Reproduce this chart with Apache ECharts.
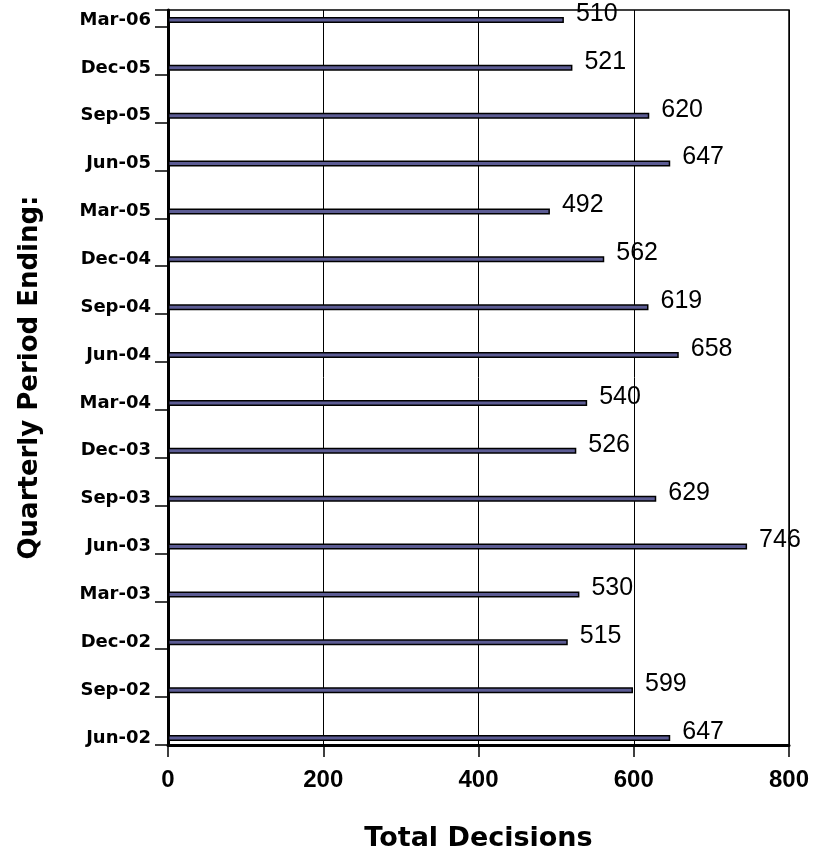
<!DOCTYPE html>
<html>
<head>
<meta charset="utf-8">
<script src="https://cdn.jsdelivr.net/npm/echarts@6/dist/echarts.min.js"></script>
<style>
html,body{margin:0;padding:0;background:#fff;}
#chart{width:814px;height:860px;}
</style>
</head>
<body>
<div id="chart"></div>
<script>
// Categories listed bottom to top
var categories = ['Jun-02','Sep-02','Dec-02','Mar-03','Jun-03','Sep-03','Dec-03','Mar-04','Jun-04','Sep-04','Dec-04','Mar-05','Jun-05','Sep-05','Dec-05','Mar-06'];
var totalDecisions = [647,599,515,530,746,629,526,540,658,619,562,492,647,620,521,510];
var xTicks = [0,200,400,600,800];

var chart = echarts.init(document.getElementById('chart'));
var font = 'Arial, "Liberation Sans", sans-serif';
var wide = '"DejaVu Sans", Arial, sans-serif';
chart.setOption({
  animation: false,
  backgroundColor: '#ffffff',
  grid: [
    {left: 168, right: 25, top: 10, bottom: 115, show: true, borderColor: '#000', borderWidth: 1.5, backgroundColor: 'transparent'},
    {left: 168, right: 25, top: 20, bottom: 122}
  ],
  xAxis: [
    {
      gridIndex: 0, type: 'value', min: xTicks[0], max: xTicks[xTicks.length-1], interval: 200,
      axisLine: {show: true, lineStyle: {color: '#000', width: 3}},
      axisTick: {show: true, length: 12, lineStyle: {color: '#000', width: 1.5}},
      axisLabel: {color: '#000', fontFamily: font, fontWeight: 'bold', fontSize: 24, margin: 23},
      splitLine: {show: true, lineStyle: {color: '#000', width: 1}},
      name: 'Total Decisions', nameLocation: 'middle', nameGap: 80,
      nameTextStyle: {color: '#000', fontFamily: wide, fontWeight: 'bold', fontSize: 27}
    },
    {
      gridIndex: 1, type: 'value', min: 0, max: 800, show: false,
      splitLine: {show: false}
    }
  ],
  yAxis: [
    {
      gridIndex: 0, type: 'value', min: 0, max: 15.35, interval: 1,
      axisLine: {show: true, lineStyle: {color: '#000', width: 3}},
      axisTick: {show: true, length: 13, lineStyle: {color: '#000', width: 1.5}},
      axisLabel: {show: false},
      splitLine: {show: false},
      name: 'Quarterly Period Ending:', nameLocation: 'middle', nameRotate: 90, nameGap: 125,
      nameTextStyle: {color: '#000', fontFamily: wide, fontWeight: 'bold', fontSize: 26}
    },
    {
      gridIndex: 1, type: 'category', data: categories, boundaryGap: false,
      axisLine: {show: false}, axisTick: {show: false},
      axisLabel: {color: '#000', fontFamily: wide, fontWeight: 'bold', fontSize: 18, margin: 17}
    }
  ],
  series: [{
    type: 'bar', xAxisIndex: 1, yAxisIndex: 1,
    data: totalDecisions,
    barWidth: 6,
    itemStyle: {color: '#5c5c94', borderColor: '#000', borderWidth: 1.5},
    label: {show: true, position: 'right', distance: 12, offset: [0, -6],
      color: '#000', fontFamily: font, fontSize: 25}
  }]
});
</script>
</body>
</html>
